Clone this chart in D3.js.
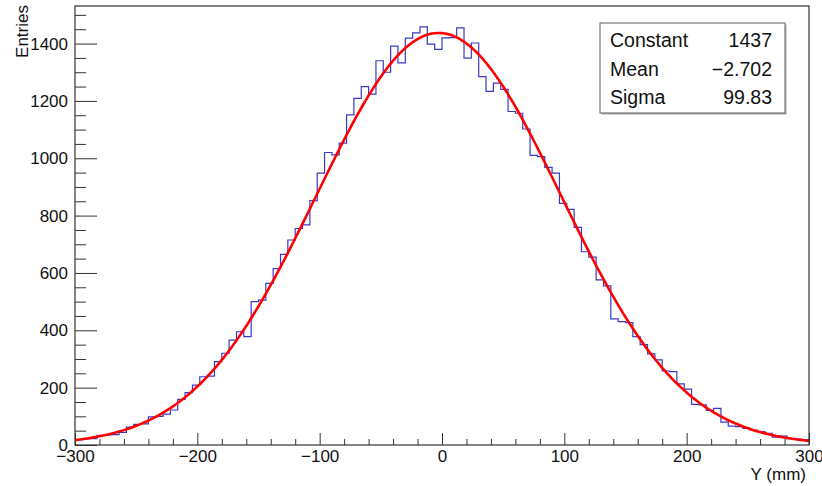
<!DOCTYPE html>
<html><head><meta charset="utf-8">
<script src="https://cdn.jsdelivr.net/npm/d3@7"></script>
<style>
body{margin:0;background:#fff}
svg{display:block}
text{font-family:"Liberation Sans",Arial,Helvetica,sans-serif}
</style>
</head><body>
<svg id="c" width="822" height="486"></svg>
<script>
// ---- data ----
const binLow = -300, binHigh = 300, binWidth = 6;
const counts = [
  19, 21, 22, 34, 35, 36, 44, 62, 72, 74,
  98, 100, 108, 122, 159, 183, 209, 238, 240, 291,
  320, 366, 395, 378, 500, 505, 564, 615, 665, 715,
  755, 768, 852, 948, 1020, 1012, 1053, 1151, 1209, 1250,
  1224, 1340, 1300, 1391, 1333, 1419, 1437, 1458, 1398, 1380,
  1420, 1421, 1455, 1349, 1402, 1285, 1233, 1262, 1240, 1163,
  1157, 1102, 1010, 1006, 968, 948, 843, 822, 759, 674,
  655, 576, 555, 440, 430, 427, 378, 350, 318, 297,
  258, 256, 213, 195, 142, 140, 121, 128, 80, 66,
  64, 58, 52, 47, 41, 27, 31, 22, 21, 18
];
const fitConstant = 1437, fitMean = -2.702, fitSigma = 99.83;
const statsLabels = ["Constant", "Mean", "Sigma"];
const statsValues = ["1437", "\u22122.702", "99.83"];
const xTickValues = [-300, -200, -100, 0, 100, 200, 300];
const yTickValues = [0, 200, 400, 600, 800, 1000, 1200, 1400];
const xTitle = "Y (mm)", yTitle = "Entries";
const yMax = 1531;

// ---- layout ----
const L = 75, R = 809, T = 6, B = 445;
const svg = d3.select("#c");
const x = d3.scaleLinear().domain([binLow, binHigh]).range([L, R]);
const y = d3.scaleLinear().domain([0, yMax]).range([B, T]);
const fmt = v => (v < 0 ? "\u2212" + Math.abs(v) : String(v));
const axisColor = "#333";

// minor ticks
const xMinor = d3.range(binLow, binHigh + 1, 20).filter(v => v % 100 !== 0);
const yMinor = d3.range(0, yMax, 50).filter(v => v % 200 !== 0);

svg.append("g").attr("transform", `translate(0,${B})`)
  .call(d3.axisBottom(x).tickValues(xMinor).tickSize(-6).tickFormat(""))
  .call(g => g.select(".domain").remove())
  .selectAll("line").attr("stroke", axisColor);
svg.append("g").attr("transform", `translate(${L},0)`)
  .call(d3.axisLeft(y).tickValues(yMinor).tickSize(-11).tickFormat(""))
  .call(g => g.select(".domain").remove())
  .selectAll("line").attr("stroke", axisColor);

// major ticks
const gx = svg.append("g").attr("transform", `translate(0,${B})`)
  .call(d3.axisBottom(x).tickValues(xTickValues).tickSize(-12).tickPadding(5).tickFormat(fmt));
gx.select(".domain").remove();
gx.selectAll("line").attr("stroke", axisColor);
gx.selectAll("text").attr("font-size", 17).attr("fill", "#111")
  .attr("font-family", '"Liberation Sans",Arial,sans-serif');

const gy = svg.append("g").attr("transform", `translate(${L},0)`)
  .call(d3.axisLeft(y).tickValues(yTickValues).tickSize(-22).tickPadding(7).tickFormat(fmt));
gy.select(".domain").remove();
gy.selectAll("line").attr("stroke", axisColor);
gy.selectAll("text").attr("font-size", 17).attr("fill", "#111")
  .attr("font-family", '"Liberation Sans",Arial,sans-serif');

// histogram
const edges = counts.map((c, i) => binLow + i * binWidth);
const pts = counts.map((c, i) => [edges[i], c]);
pts.push([binHigh, counts[counts.length - 1]]);
svg.append("path")
  .attr("d", d3.line().x(d => x(d[0])).y(d => y(d[1])).curve(d3.curveStepAfter)(pts))
  .attr("fill", "none").attr("stroke", "#3a3ac8").attr("stroke-width", 1.2);

// fit curve (gaussian with the displayed fit parameters)
const fitX = d3.range(binLow, binHigh + 0.01, 2);
svg.append("path")
  .attr("d", d3.line()
    .x(v => x(v))
    .y(v => y(fitConstant * Math.exp(-0.5 * Math.pow((v - fitMean) / fitSigma, 2))))(fitX))
  .attr("fill", "none").attr("stroke", "#ff0000").attr("stroke-width", 2.6);

// frame
svg.append("rect").attr("x", L).attr("y", T).attr("width", R - L).attr("height", B - T)
  .attr("fill", "none").attr("stroke", axisColor).attr("stroke-width", 1.2);

// axis titles
svg.append("text").attr("x", 806).attr("y", 480).attr("text-anchor", "end")
  .attr("font-size", 17).attr("fill", "#111").text(xTitle);
svg.append("text").attr("transform", "translate(28,5) rotate(-90)").attr("text-anchor", "end")
  .attr("font-size", 17).attr("fill", "#111").text(yTitle);

// stats box
const bx = 600, by = 23, bw = 185, bh = 90;
svg.append("rect").attr("x", bx + 1.5).attr("y", by + 1.5).attr("width", bw).attr("height", bh)
  .attr("fill", "#aaa");
svg.append("rect").attr("x", bx).attr("y", by).attr("width", bw).attr("height", bh)
  .attr("fill", "#fff").attr("stroke", "#777").attr("stroke-width", 1.2);
const rowY = [46.5, 76, 104];
statsLabels.forEach((s, i) => {
  svg.append("text").attr("x", 610).attr("y", rowY[i]).attr("font-size", 19.5)
    .attr("fill", "#111").text(s);
  svg.append("text").attr("x", 772).attr("y", rowY[i]).attr("font-size", 19.5)
    .attr("text-anchor", "end").attr("fill", "#111").text(statsValues[i]);
});
</script>
</body></html>
